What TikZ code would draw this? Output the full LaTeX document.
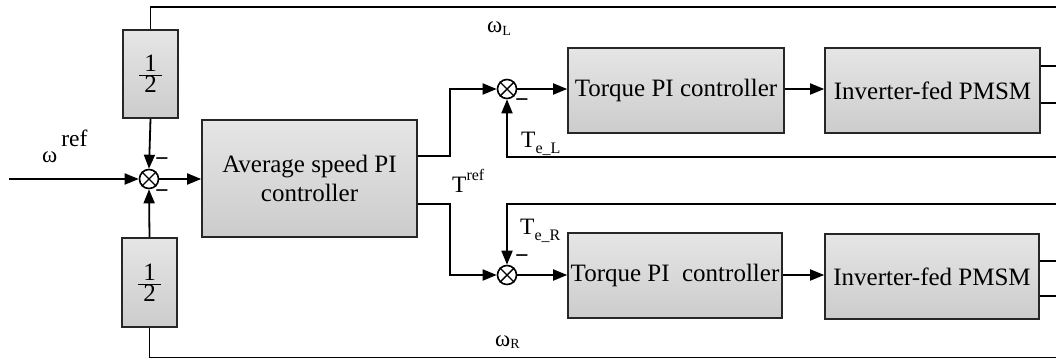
\documentclass[tikz,border=0pt]{standalone}
\usepackage{fontspec}
\usepackage{graphicx}
\setmainfont{Liberation Serif}
\usetikzlibrary{arrows.meta,calc}
\tikzset{
  blk/.style={draw=black!85, line width=1.6pt, top color=gray!20, middle color=gray!7, bottom color=gray!40,
    inner sep=0pt, font=\fontsize{25}{29}\selectfont, align=center},
  sumj/.style={circle, draw, line width=1.6pt, minimum size=19pt, inner sep=0pt, fill=white},
  wire/.style={line width=1.8pt},
  arr/.style={wire, -{Triangle[length=14pt,width=11pt]}},
  lbl/.style={inner sep=0pt, anchor=base west, font=\fontsize{23.5}{27}\selectfont},
  minus/.style={inner sep=0pt, font=\fontsize{24}{26}\selectfont\bfseries}
}
\newcommand\halffrac{$\frac{\mbox{\hspace{5pt}1\hspace{5pt}}}{\mbox{\hspace{5pt}2\hspace{5pt}}}$}
\begin{document}
\begin{tikzpicture}[x=1pt,y=-1pt]
\useasboundingbox (0,0) rectangle (1056,359);
% blocks
\node[blk, minimum width=55pt, minimum height=88pt] (hu) at (150.5,74) {\halffrac};
\node[blk, minimum width=55pt, minimum height=89pt] (hd) at (149.5,282.5) {\halffrac};
\node[sumj] (j) at (149,179) {};
\node[blk, minimum width=215pt, minimum height=117pt] (avg) at (309.5,178.5) {Average speed PI\\controller};
\node[sumj] (jl) at (507,89) {};
\node[blk, minimum width=216pt, minimum height=85pt] (tql) at (676,90.5) {Torque PI controller};
\node[blk, minimum width=215pt, minimum height=85pt] (invl) at (932.5,90.5) {Inverter-fed PMSM};
\node[sumj] (jr) at (507,275) {};
\node[blk, minimum width=214pt, minimum height=85pt] (tqr) at (675,275.5) {Torque PI\ \ controller};
\node[blk, minimum width=214pt, minimum height=85pt] (invr) at (932,276.5) {Inverter-fed PMSM};
% crosses in junctions
\foreach \n in {j,jl,jr}{
  \draw[line width=1.4pt] (\n.45) -- (\n.225) (\n.135) -- (\n.315);
}
% free ends
\coordinate (topR) at (1056,7);
\coordinate (botR) at (1056,357.5);
\coordinate (in) at (9,179);
\coordinate (up) at (450,156);
\coordinate (dn) at (450,204);
\coordinate (fbL) at (1056,157);
\coordinate (fbR) at (1056,204);
\coordinate (oL1) at (1056,66);
\coordinate (oL2) at (1056,103);
\coordinate (oR1) at (1056,261);
\coordinate (oR2) at (1056,296);
% connectors
\draw[wire] (hu.north) |- (topR);
\draw[arr] (hu.south) -- (j.north);
\draw[wire] (hd.south) |- (botR);
\draw[arr] (hd.north) -- (j.south);
\draw[arr] (in) -- (j.west);
\draw[arr] (j.east) -- (j.east -| avg.west);
\draw[arr] (avg.east |- up) -- (up) |- (jl.west);
\draw[arr] (avg.east |- dn) -- (dn) |- (jr.west);
\draw[arr] (jl.east) -- (jl.east -| tql.west);
\draw[arr] (tql.east |- jl) -- (invl.west |- jl);
\draw[arr] (jr.east) -- (jr.east -| tqr.west);
\draw[arr] (tqr.east |- jr) -- (invr.west |- jr);
\draw[arr] (fbL) -| (jl.south);
\draw[arr] (fbR) -| (jr.north);
\draw[wire] (oL1 -| invl.east) -- (oL1);
\draw[wire] (oL2 -| invl.east) -- (oL2);
\draw[wire] (oR1 -| invr.east) -- (oR1);
\draw[wire] (oR2 -| invr.east) -- (oR2);
% minus signs
\node[minus] (m1) at (162,162) {−};
\node[minus] (m2) at (162,194) {−};
\node[minus] (m3) at (522,103) {−};
\node[minus] (m4) at (522,259) {−};
% labels
\node[lbl] (wref) at (42,162) {{\fontsize{23}{25}\selectfont ω}\hspace{4pt}\raisebox{16pt}{ref}};
\node[lbl] (tref) at (452,192) {T\raisebox{12pt}{\fontsize{16}{18}\selectfont ref}};
\node[lbl] (wl) at (487,32) {{\fontsize{23}{25}\selectfont ω}\raisebox{-3pt}{\fontsize{14}{16}\selectfont L}};
\node[lbl] (wr) at (495,346) {{\fontsize{23}{25}\selectfont ω}\raisebox{-2pt}{\fontsize{14}{16}\selectfont R}};
\node[lbl] (tel) at (521,147) {T\raisebox{-6pt}{\fontsize{16}{18}\selectfont e\_L}};
\node[lbl] (ter) at (520,234) {T\raisebox{-6pt}{\fontsize{16}{18}\selectfont e\_R}};
\end{tikzpicture}
\end{document}
